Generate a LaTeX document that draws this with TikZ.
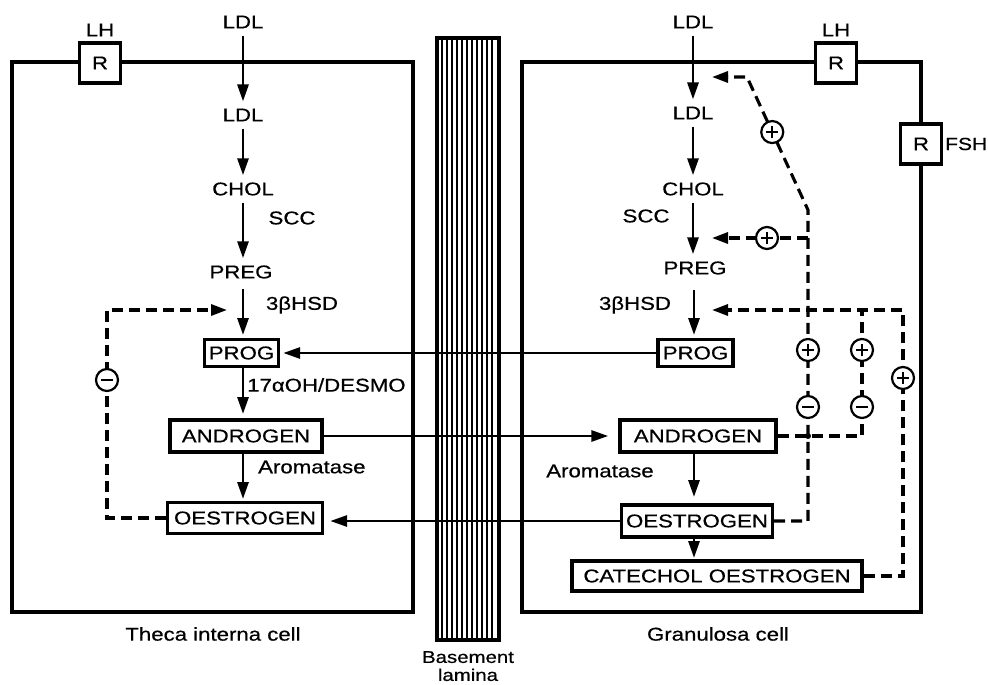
\documentclass[tikz,border=0pt]{standalone}
\usepackage{fontspec}
\setmainfont{Liberation Sans}[FakeStretch=1.2,FakeBold=0.6]
\usetikzlibrary{arrows.meta,calc}
\begin{document}
\begin{tikzpicture}[x=1pt,y=-1pt,
  lbl/.style={font=\fontsize{18.5}{21}\selectfont, inner xsep=2pt, inner ysep=7pt},
  txt/.style={font=\fontsize{18.5}{21}\selectfont, inner sep=1pt},
  sbox/.style={draw, line width=3.4pt, fill=white, font=\fontsize{18.5}{21}\selectfont, inner sep=0pt},
  rbox/.style={draw, line width=3.4pt, fill=white, minimum width=41pt, minimum height=40pt, inner sep=0pt, font=\fontsize{18.5}{21}\selectfont},
  wall/.style={draw, line width=3.4pt, inner sep=0pt},
  arr/.style={line width=2.9pt, -{Triangle[length=17pt,width=11pt]}},
  dsh/.style={line width=3.1pt, dash pattern=on 11pt off 6pt},
  darr/.style={dsh, -{Triangle[length=16pt,width=11pt]}},
  pmc/.style={circle, draw, line width=2.2pt, fill=white, minimum size=22pt, inner sep=0pt},
  plusc/.style={pmc, path picture={\draw[line width=2.3pt] (path picture bounding box.center) +(-6pt,0pt) -- +(6pt,0pt) (path picture bounding box.center) +(0pt,-6pt) -- +(0pt,6pt);}},
  minusc/.style={pmc, path picture={\draw[line width=2.3pt] (path picture bounding box.center) +(-6pt,0pt) -- +(6pt,0pt);}}
]
\useasboundingbox (0,0) rectangle (988,685);

% cell walls
\node[wall, minimum width=401pt, minimum height=550pt] (theca) at (212.5,337) {};
\node[wall, minimum width=399pt, minimum height=550pt] (gran) at (721.5,337) {};

% basement lamina
\foreach \x in {442,447,...,496} \draw[line width=1.1pt] (\x,40) -- (\x,638);
\draw[line width=3.4pt] (437,38) rectangle (499,640);
\node[align=center, font=\fontsize{17}{18}\selectfont, inner sep=0pt, anchor=north] (bm) at (468,651) {Basement\\lamina};

% receptors
\node[rbox] (rL) at (100,63) {R};
\node[txt] (lhL) at (100,30) {LH};
\node[rbox] (rR) at (836,63) {R};
\node[txt] (lhR) at (836,30) {LH};
\node[rbox] (rF) at (921,144) {R};
\node[font=\fontsize{17.5}{20}\selectfont, inner sep=0pt, anchor=west] (fsh) at (945,144) {FSH};

% ---------- theca chain ----------
\node[lbl] (ldlA) at (243,22) {LDL};
\node[lbl] (ldlB) at (243,115) {LDL};
\node[lbl] (cholL) at (243,189) {CHOL};
\node[txt] (sccL) at (292,218) {SCC};
\node[lbl] (pregL) at (241,272) {PREG};
\node[txt] (hsdL) at (302,305) {3βHSD};
\node[sbox, minimum width=74pt, minimum height=27pt] (progL) at (241.5,353) {PROG};
\node[txt, anchor=west] (desmo) at (246,385) {17αOH/DESMO};
\node[sbox, minimum width=152pt, minimum height=32pt] (andL) at (246,436) {ANDROGEN};
\node[txt, anchor=west] (aromL) at (257,467) {Aromatase};
\node[sbox, minimum width=155pt, minimum height=31pt] (oesL) at (245,518) {OESTROGEN};
\node[txt] (theca lbl) at (213,634) {Theca interna cell};

\draw[arr] (ldlA.south) -- (ldlB.north);
\draw[arr] (ldlB.south) -- (ldlB.south |- cholL.north);
\draw[arr] (cholL.south) -- (cholL.south |- pregL.north);
\draw[arr, shorten >=5pt] (243,289) -- (243,340);
\draw[arr, shorten >=6pt] (243,368) -- (243,420);
\draw[arr, shorten >=3pt] (243,453) -- (243,502);

% theca feedback
\coordinate (tL1) at (107,518);
\coordinate (tL2) at (107,310);
\coordinate (tipL) at (227,310);
\draw[darr] (oesL.west) -- (tL1) -- (tL2) -- (tipL);
\node[minusc] (mL) at (107,380) {};

% ---------- granulosa chain ----------
\node[lbl] (ldlC) at (693,22) {LDL};
\node[lbl] (ldlD) at (693,113) {LDL};
\node[lbl] (cholR) at (693,189) {CHOL};
\node[txt] (sccR) at (646,216) {SCC};
\node[lbl] (pregR) at (695,268) {PREG};
\node[txt] (hsdR) at (635,305) {3βHSD};
\node[sbox, minimum width=75pt, minimum height=27pt] (progR) at (695.5,353) {PROG};
\node[sbox, minimum width=156pt, minimum height=32pt] (andR) at (698,436) {ANDROGEN};
\node[txt] (aromR) at (600,471) {Aromatase};
\node[sbox, minimum width=151pt, minimum height=32pt] (oesR) at (697,521) {OESTROGEN};
\node[sbox, minimum width=290pt, minimum height=30pt] (cat) at (717,576) {CATECHOL OESTROGEN};
\node[txt] (gran lbl) at (718,634) {Granulosa cell};

\draw[arr] (ldlC.south) -- (ldlD.north);
\draw[arr] (ldlD.south) -- (ldlD.south |- cholR.north);
\draw[arr] (cholR.south) -- (cholR.south |- pregR.north);
\draw[arr, shorten >=5pt] (694,290) -- (694,340);
\draw[arr, shorten >=8pt] (694,453) -- (694,505);
\draw[arr, shorten >=3pt] (694,538) -- (694,561);

% transfers across the lamina
\draw[arr, shorten >=3pt] (progR.west) -- (progL.east);
\draw[arr, shorten >=10pt] (andL.east) -- (andR.west);
\draw[arr, shorten >=6pt] (oesR.west) -- (oesL.east |- oesR.west);

% granulosa feedback
\coordinate (a1) at (808,521);
\coordinate (a2) at (808,210);
\coordinate (a3) at (747,77);
\coordinate (tipLDL) at (712,77);
\coordinate (aS) at (808,238);
\coordinate (tipSCC) at (712,238);
\coordinate (b1) at (862,436);
\coordinate (b2) at (862,310);
\coordinate (c1) at (903,576);
\coordinate (c2) at (903,310);
\coordinate (tipHSD) at (712,310);

\draw[darr] (oesR.east) -- (a1) -- (a2) -- (a3) -- (tipLDL);
\draw[darr] (aS) -- (tipSCC);
\draw[dsh] (andR.east) -- (b1) -- (b2);
\draw[darr] (cat.east) -- (c1) -- (c2) -- (tipHSD);
\fill (808,436) circle (3pt);

\node[plusc] (p1) at ($(a2)!0.586!(a3)$) {};
\node[plusc] (p2) at (767,238) {};
\node[plusc] (p3) at (808,350) {};
\node[minusc] (m3) at (808,407) {};
\node[plusc] (p4) at (862,350) {};
\node[minusc] (m4) at (862,407) {};
\node[plusc] (p5) at (903,378) {};
\end{tikzpicture}
\end{document}
